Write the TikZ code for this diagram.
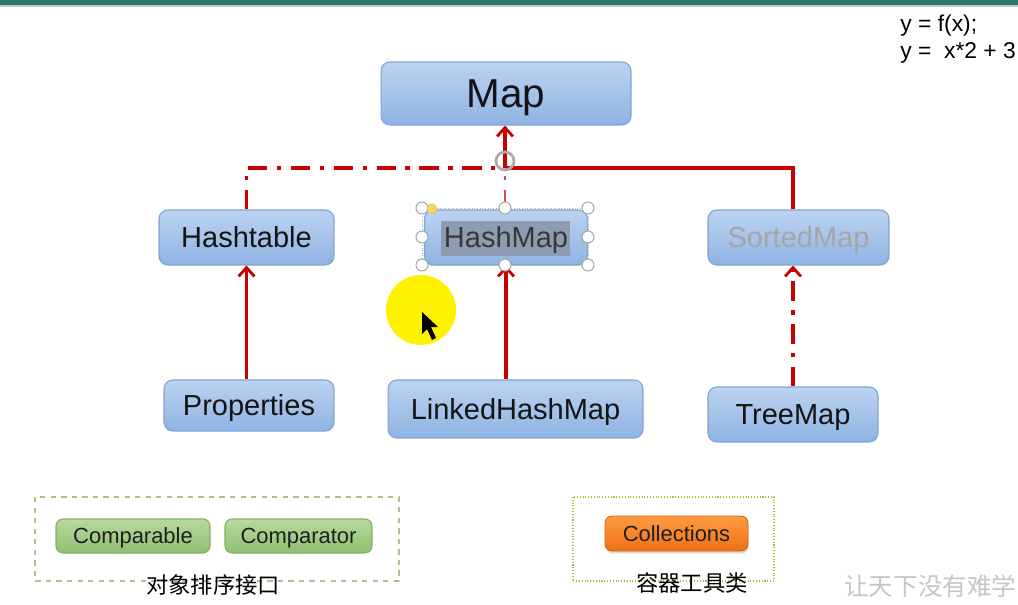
\documentclass[tikz,border=0pt]{standalone}
\usepackage{fontspec}
\setmainfont{Liberation Sans}
\newfontfamily\cjkfont{Noto Sans CJK SC}
\usetikzlibrary{arrows.meta,positioning,shadows}
\definecolor{boxtop}{HTML}{BCD3F1}
\definecolor{boxbot}{HTML}{8EB3E2}
\definecolor{boxline}{HTML}{7FA5D6}
\definecolor{greentop}{HTML}{B8DA9F}
\definecolor{greenbot}{HTML}{8FBF70}
\definecolor{greenline}{HTML}{85AD69}
\definecolor{orangetop}{HTML}{FF9C40}
\definecolor{orangebot}{HTML}{EE7018}
\definecolor{inhred}{HTML}{C80000}
\definecolor{topbar}{HTML}{2F7766}
\definecolor{selgray}{HTML}{8E9CB2}

\begin{document}
\begin{tikzpicture}[x=0.02cm,y=-0.02cm,
    classbox/.style={draw=boxline, line width=0.6pt, top color=boxtop, bottom color=boxbot,
        rounded corners=5pt, inner sep=0pt, text height=11.8pt, text depth=0pt,
        text=black!92, font=\fontsize{16.5}{18}\selectfont},
    cmpbox/.style={draw=greenline, line width=0.6pt, top color=greentop, bottom color=greenbot,
        rounded corners=4pt, inner sep=0pt, minimum height=0.68cm, text height=9pt, text depth=0pt,
        text=black!88, font=\fontsize{12.5}{14}\selectfont},
    toolbox/.style={draw=orangebot!90!black, line width=0.5pt, top color=orangetop, bottom color=orangebot,
        rounded corners=4pt, inner sep=0pt, text height=9pt, text depth=0pt, text=black!88,
        drop shadow={opacity=0.3, shadow xshift=0.4pt, shadow yshift=-1.4pt}, font=\fontsize{12.5}{14}\selectfont},
    isa/.style={draw=inhred, line width=2.2pt, -{Straight Barb[length=5pt,width=9pt,line width=1.6pt]}},
    dashdotline/.style={dash pattern=on 11pt off 5.5pt on 2.4pt off 5.5pt},
    handle/.style={circle, draw=gray!70, fill=white, line width=0.6pt, inner sep=0pt, minimum size=0.24cm}
]
    \useasboundingbox (0,0) rectangle (1018,605);
    \fill[white] (0,0) rectangle (1018,605);
    \fill[topbar] (0,0) rectangle (1018,5);
    \fill[topbar!35] (0,5) rectangle (1018,6.5);

    % formula notes
    \node[anchor=west, inner sep=0pt, font=\fontsize{13}{15}\selectfont] (fx) at (900,26) {y = f(x);};
    \node[anchor=west, inner sep=0pt, font=\fontsize{13}{15}\selectfont] (fx2) at (900,53) {y =\ \ x*2 + 3};

    % class nodes
    \node[classbox, minimum width=5cm, minimum height=1.26cm, text height=16.5pt, font=\fontsize{23}{26}\selectfont] (map) at (506,93.5) {Map};
    \node[classbox, minimum width=3.5cm, minimum height=1.1cm] (ht) at (246.5,237.5) {Hashtable};
    \node[classbox, minimum width=3.26cm, minimum height=1.1cm] (hm) at (506,237.5) {};
    \node[classbox, minimum width=3.62cm, minimum height=1.1cm, text=gray!70] (sm) at (798.5,237.5) {SortedMap};
    \node[classbox, minimum width=3.4cm, minimum height=1.02cm] (prop) at (249,405.5) {Properties};
    \node[classbox, minimum width=5.1cm, minimum height=1.16cm] (lhm) at (515.5,409) {LinkedHashMap};
    \node[classbox, minimum width=3.4cm, minimum height=1.1cm] (tm) at (793,414.5) {TreeMap};

    % selected text box
    \fill[selgray] (441,221) rectangle (570,256);
    \node[font=\fontsize{16.5}{18}\selectfont, text height=11.8pt, text depth=0pt, inner sep=0pt, text=black!78] (hmtext) at (hm.center) {HashMap};

    % connectors to Map
    \coordinate (jn) at (505,168);
    \draw[inhred, line width=2.2pt, dashdotline] (ht.north) |- (jn);
    \draw[inhred, line width=2.2pt] (sm.north -| 793,0) |- (jn);
    \draw[inhred!70, line width=0.8pt, dashdotline] (hm.north -| jn) -- (jn);
    \draw[isa] (jn) -- (map.south -| jn);
    \node[circle, draw=gray!65, line width=1.6pt, minimum size=0.36cm] (rot) at (505,161) {};

    % inheritance arrows
    \draw[isa] (prop.north -| ht.south) -- (ht.south);
    \draw[isa] (lhm.north -| hm.south) -- (hm.south);
    \draw[isa, dashdotline] (tm.north) -- (sm.south -| tm.north);

    % selection handles
    \draw[gray!60, densely dotted, line width=0.5pt] (422,208) rectangle (588,265);
    \foreach \hx/\hy/\hn in {422/208/a, 505/208/b, 588/208/c, 422/237/d, 588/237/e, 422/265/f, 505/265/g, 588/265/h}
        \node[handle] (h\hn) at (\hx,\hy) {};
    \node[circle, fill=yellow!60!orange!70, draw=gray!50, inner sep=0pt, minimum size=0.2cm] (hy) at (432,209) {};

    % cursor highlight
    \fill[yellow] (421,310) circle (35);
    \fill[black] (422,312) -- (422,334) -- (427,329) -- (432,340) -- (436,338) -- (431,327) -- (438,327) -- cycle;

    % helper groups
    \draw[gray!55!olive!60, dashed, line width=0.6pt] (35,497) rectangle (399,581);
    \node[cmpbox, minimum width=3.08cm] (cmpable) at (133,536) {Comparable};
    \node[cmpbox, minimum width=2.94cm] (cmpator) at (298.5,536) {Comparator};
    \node[font=\cjkfont\fontsize{12.7}{14}\selectfont, inner sep=1pt] (sortlbl) at (213,585) {对象排序接口};

    \draw[olive!45!yellow!70!gray, densely dotted, line width=0.6pt] (573,497) rectangle (774,581);
    \node[toolbox, minimum width=2.86cm, minimum height=0.7cm] (coll) at (676.5,533.5) {Collections};
    \node[font=\cjkfont\fontsize{12.7}{14}\selectfont, inner sep=1pt] (toollbl) at (692,583) {容器工具类};

    \node[anchor=west, text=gray!45, font=\cjkfont\fontsize{14}{16}\selectfont] (wm) at (838,586) {让天下没有难学};
\end{tikzpicture}
\end{document}
